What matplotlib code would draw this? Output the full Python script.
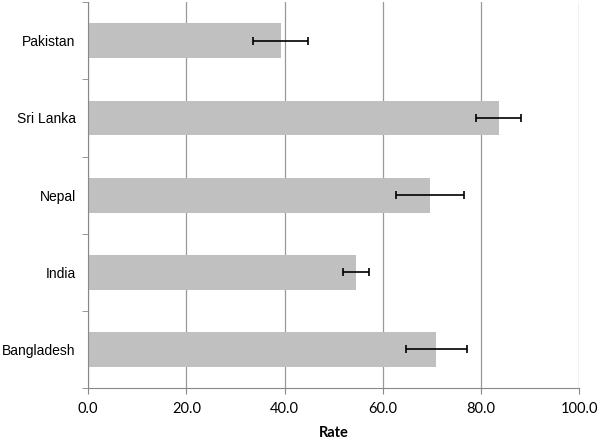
import matplotlib.pyplot as plt
import numpy as np

# valeurs
pays = ["Pakistan", "Sri Lanka", "Nepal", "India", "Bangladesh"]
taux = [39.2, 83.6, 69.6, 54.6, 70.9]
erreur = [5.6, 4.6, 6.9, 2.6, 6.2]

fig = plt.figure(figsize=(6, 4.4), dpi=100)
ax = fig.add_axes([0.147, 0.118, 0.818, 0.877])

y = np.arange(len(pays))
ax.barh(y, taux, height=0.45, color="#c0c0c0", zorder=2)
ax.errorbar(taux, y, xerr=erreur, fmt="none", ecolor="black",
            elinewidth=1.2, capsize=3, capthick=1.2, zorder=3)

ax.set_xlim(0, 100)
ax.set_ylim(len(pays) - 0.5, -0.5)
ax.set_xticks(np.arange(0, 101, 20))
ax.set_xticklabels([f"{v:.1f}" for v in np.arange(0, 101, 20)],
                   fontsize=10.5, family="Lato")
ax.set_yticks(y)
ax.set_yticklabels(pays, fontsize=10, family="Liberation Sans")
ax.set_yticks(np.arange(-0.5, len(pays), 1), minor=True)
ax.tick_params(axis="y", which="major", length=0, pad=9)
ax.tick_params(axis="y", which="minor", length=4, color="#888888")
ax.tick_params(axis="x", length=4, color="#888888", pad=6)

ax.grid(axis="x", color="#999999", linewidth=0.9, zorder=0)
for s in ["top", "right"]:
    ax.spines[s].set_visible(False)
for s in ["left", "bottom"]:
    ax.spines[s].set_color("#888888")

ax.set_xlabel("Rate", fontsize=10.5, fontweight="bold", family="Lato", labelpad=7)

plt.savefig("out.png")
